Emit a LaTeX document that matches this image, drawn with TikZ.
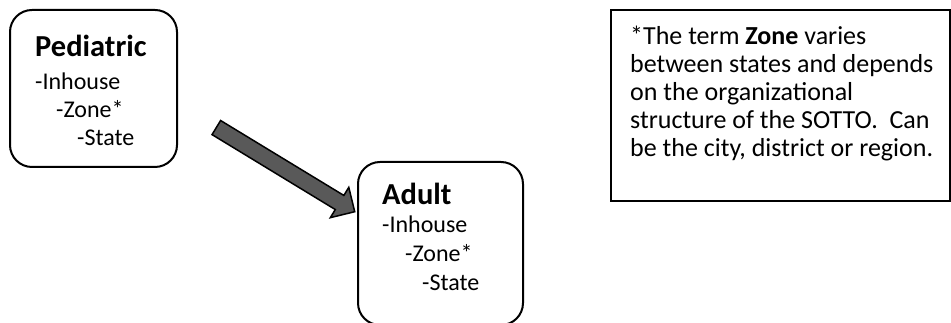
\documentclass[tikz,border=0pt]{standalone}
\usepackage{fontspec}
\setmainfont{Carlito}
\usetikzlibrary{calc,shapes.arrows}
\usepackage{xcolor}
\definecolor{arrowgray}{HTML}{595959}
\newcommand{\titlefont}{\fontsize{30.5}{36}\selectfont\bfseries}
\newcommand{\itemfont}{\fontsize{24}{28}\selectfont}
\newcommand{\notefont}{\fontsize{26}{28}\selectfont}
\tikzset{
  groupbox/.style={draw, line width=2pt, rounded corners=22pt},
  notebox/.style={draw, line width=2pt},
  titletext/.style={anchor=base west, inner sep=0pt, font=\titlefont},
  itemtext/.style={anchor=base west, inner sep=0pt, font=\itemfont},
  notetext/.style={anchor=north west, inner sep=0pt, align=left, font=\notefont},
  blockarrow/.style={single arrow, draw=black, fill=arrowgray, line width=1.5pt,
    minimum width=34pt, single arrow head extend=9.5pt, inner xsep=0pt, inner ysep=7.5pt}
}

\begin{document}
\begin{tikzpicture}[x=1pt, y=1pt]
  \useasboundingbox (0,0) rectangle (951,323);

  % pediatric group
  \draw[groupbox] (10,156) rectangle (177,313);
  \node[titletext] (pedtitle) at (35,266) {Pediatric};
  \node[itemtext] (pedinhouse) at (35,233) {-Inhouse};
  \node[itemtext] (pedzone) at (56,205) {-Zone*};
  \node[itemtext] (pedstate) at (77,177) {-State};

  % adult group
  \draw[groupbox] (358,-2) rectangle (523,161);
  \node[titletext] (adulttitle) at (382,118) {Adult};
  \node[itemtext] (adultinhouse) at (382,90) {-Inhouse};
  \node[itemtext] (adultzone) at (405,61) {-Zone*};
  \node[itemtext] (adultstate) at (422,32) {-State};

  % arrow between groups
  \coordinate (tail) at (212,198);
  \coordinate (tip) at (352,113);
  \node[blockarrow, rotate=-31.3, minimum height=162pt] (move) at ($(tail)!0.5!(tip)$) {};

  % footnote
  \draw[notebox] (611,122) rectangle (950,313);
  \node[notetext] (note) at (630,297) {*The term \textbf{Zone} varies\\
    between states and depends\\
    on the organizational\\
    structure of the SOTTO.~ Can\\
    be the city, district or region.};
\end{tikzpicture}
\end{document}
